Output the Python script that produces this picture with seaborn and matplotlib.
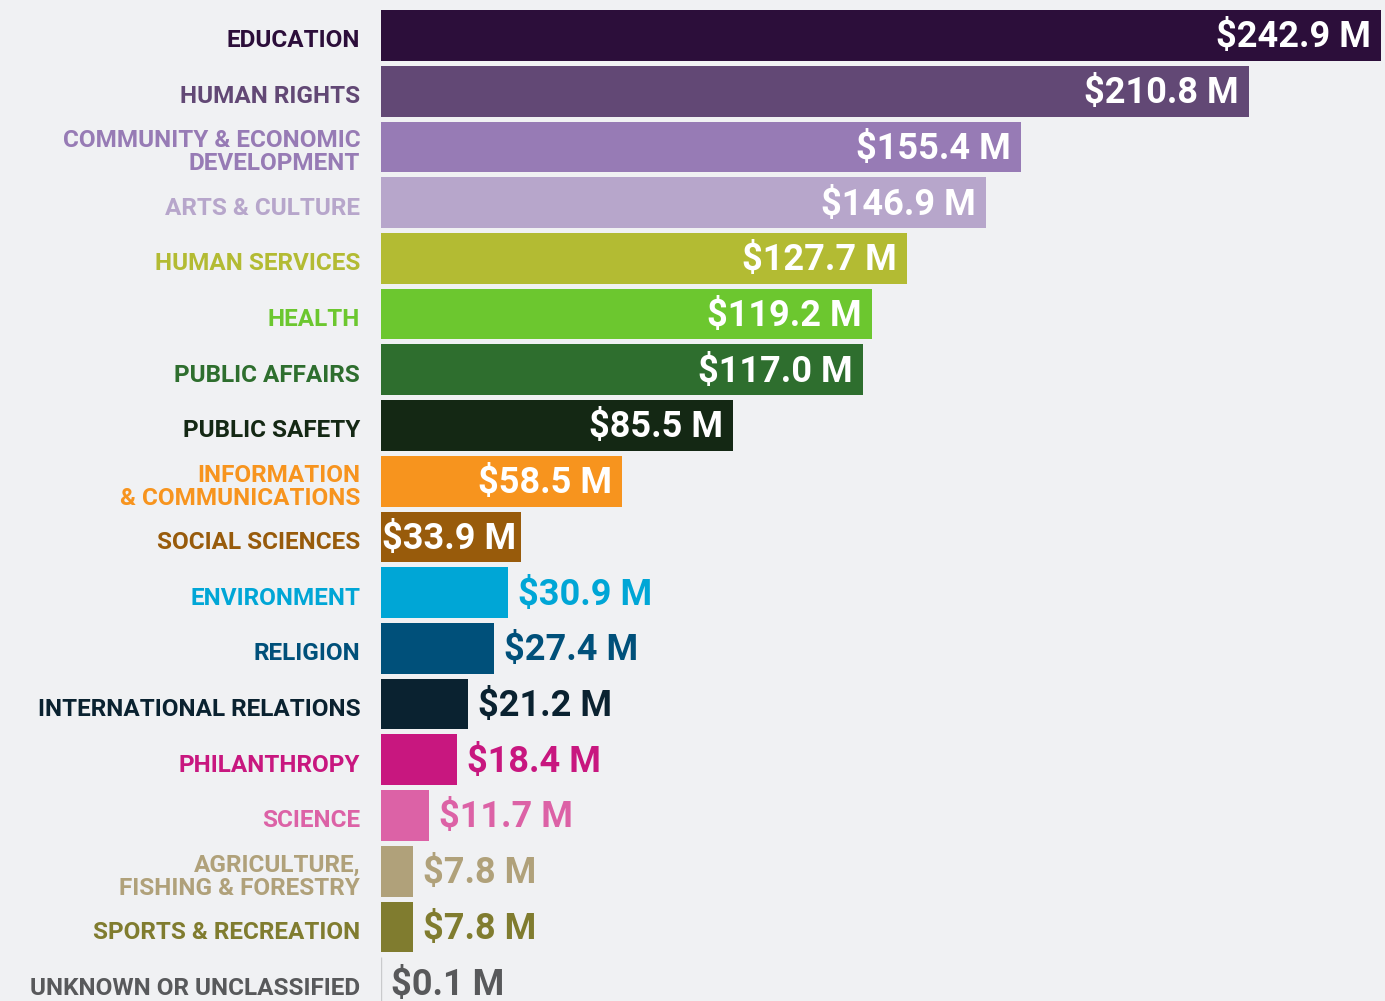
import matplotlib
matplotlib.use('Agg')
import matplotlib.pyplot as plt
import seaborn as sns
import pandas as pd

categories = [
    'EDUCATION', 'HUMAN RIGHTS', 'COMMUNITY & ECONOMIC\nDEVELOPMENT', 'ARTS & CULTURE',
    'HUMAN SERVICES', 'HEALTH', 'PUBLIC AFFAIRS', 'PUBLIC SAFETY',
    'INFORMATION\n& COMMUNICATIONS', 'SOCIAL SCIENCES', 'ENVIRONMENT', 'RELIGION',
    'INTERNATIONAL RELATIONS', 'PHILANTHROPY', 'SCIENCE',
    'AGRICULTURE,\nFISHING & FORESTRY', 'SPORTS & RECREATION', 'UNKNOWN OR UNCLASSIFIED',
]
amounts = [242.9, 210.8, 155.4, 146.9, 127.7, 119.2, 117.0, 85.5, 58.5,
           33.9, 30.9, 27.4, 21.2, 18.4, 11.7, 7.8, 7.8, 0.1]
bar_colors = ['#2C0E3A', '#624875', '#977BB5', '#B7A6CB', '#B3BB33', '#6CC72F',
              '#2E6E2E', '#142814', '#F7941E', '#985B0B', '#00A6D6', '#00507A',
              '#0A2230', '#C8177F', '#DC62A6', '#B0A17A', '#807C2F', '#C9CACC']
text_colors = bar_colors[:-1] + ['#58595B']

bg = '#F0F1F3'
sns.set_theme(style='white')
plt.rcParams['font.family'] = ['Roboto', 'DejaVu Sans']

df = pd.DataFrame({'category': categories, 'amount': amounts})

fig = plt.figure(figsize=(13.85, 10.01), dpi=100, facecolor=bg)
px_per_unit = 1000 / 242.9
ax = fig.add_axes([381 / 1385, 0, 1004 / 1385, 1])
ax.set_facecolor(bg)

sns.barplot(data=df, y='category', x='amount', hue='category', palette=bar_colors,
            orient='h', width=0.91, legend=False, ax=ax, saturation=1, linewidth=0)

# the near-zero bar shows up as a hairline
tiny = min(ax.patches, key=lambda p: p.get_width())
tiny.set_edgecolor(bar_colors[-1])
tiny.set_linewidth(1.0)

ax.set_xlim(0, 1004 / px_per_unit)
ax.set_ylim(17.33, -0.637)
for s in ax.spines.values():
    s.set_visible(False)
ax.set_xticks([])
ax.set_xlabel('')
ax.set_ylabel('')
ax.tick_params(axis='y', length=0, pad=15)
ax.set_yticks(range(len(categories)))
ax.set_yticklabels(categories, fontsize=17.5, fontweight='bold', linespacing=1.0)
shift = matplotlib.transforms.Affine2D().translate(0, -3)
for lbl, c in zip(ax.get_yticklabels(), text_colors):
    lbl.set_color(c)
    lbl.set_transform(lbl.get_transform() + shift)

# value labels: inside (white) for big bars, outside in bar colour for small ones
for i, (v, c) in enumerate(zip(amounts, text_colors)):
    txt = f'${v:.1f} M'
    if v > 33:
        off = -10 if v > 40 else -4
        ax.annotate(txt, (v, i), xytext=(off, -2), textcoords='offset pixels',
                    ha='right', va='center', color='white', fontsize=26, fontweight='bold')
    else:
        ax.annotate(txt, (v, i), xytext=(10, -2), textcoords='offset pixels',
                    ha='left', va='center', color=c, fontsize=26, fontweight='bold')

fig.savefig('out.png', dpi=100, facecolor=bg)
